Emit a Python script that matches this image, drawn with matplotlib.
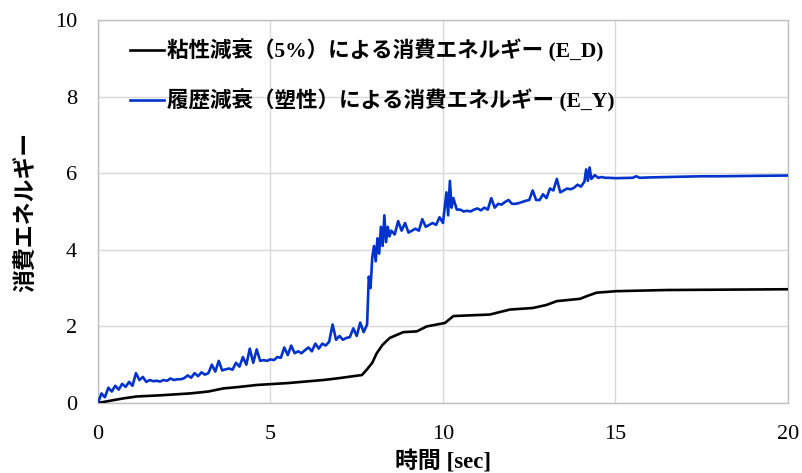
import matplotlib
matplotlib.use("Agg")
import matplotlib.pyplot as plt

# Time axis ticks
x_ticks = [0, 5, 10, 15, 20]
y_ticks = [0, 2, 4, 6, 8, 10]

# Viscous damping (5%) dissipated energy E_D
t_d = [0.0, 0.3, 0.73, 1.12, 1.8, 2.67, 3.2, 3.63, 4.1, 4.6, 5.5, 6.53, 7.0,
       7.4, 7.65, 7.79, 7.95, 8.08, 8.25, 8.46, 8.85, 9.24, 9.53, 10.06, 10.18,
       10.3, 11.36, 11.94, 12.6, 13.0, 13.3, 13.97, 14.2, 14.45, 15.03, 16.5, 20.0]
e_d = [0.0, 0.05, 0.12, 0.17, 0.2, 0.25, 0.3, 0.38, 0.42, 0.47, 0.52, 0.6, 0.65,
       0.7, 0.73, 0.87, 1.05, 1.3, 1.52, 1.7, 1.85, 1.87, 2.0, 2.09, 2.18,
       2.27, 2.31, 2.44, 2.48, 2.56, 2.66, 2.72, 2.8, 2.88, 2.92, 2.95, 2.97]

# Hysteretic (plastic) dissipated energy E_Y
t_y = [0.0, 0.1, 0.2, 0.3, 0.4, 0.5, 0.6, 0.7, 0.8, 0.9,
       1.0, 1.1, 1.2, 1.3, 1.4, 1.5, 1.6, 1.7, 1.8, 1.9,
       2.0, 2.1, 2.2, 2.3, 2.4, 2.5, 2.6, 2.7, 2.8, 2.9,
       3.0, 3.1, 3.2, 3.3, 3.4, 3.5, 3.6, 3.7, 3.8, 3.9,
       4.0, 4.1, 4.2, 4.3, 4.4, 4.5, 4.6, 4.7, 4.8, 4.9,
       5.0, 5.1, 5.2, 5.3, 5.4, 5.5, 5.6, 5.7, 5.8, 5.9,
       6.0, 6.1, 6.2, 6.3, 6.4, 6.5, 6.6, 6.7, 6.8, 6.9,
       7.0, 7.1, 7.2, 7.3, 7.4, 7.5, 7.6, 7.7, 7.8, 7.85,
       7.9, 7.95, 8.0, 8.05, 8.1, 8.15, 8.2, 8.25, 8.3, 8.35,
       8.4, 8.45, 8.5, 8.6, 8.7, 8.8, 8.9, 9.0, 9.1, 9.2,
       9.3, 9.4, 9.5, 9.6, 9.7, 9.8, 9.9, 10.0, 10.1, 10.15,
       10.2, 10.25, 10.3, 10.4, 10.5, 10.6, 10.7, 10.8, 10.9, 11.0,
       11.1, 11.2, 11.3, 11.4, 11.5, 11.6, 11.7, 11.8, 11.9, 12.0,
       12.1, 12.2, 12.3, 12.4, 12.5, 12.6, 12.7, 12.8, 12.9, 13.0,
       13.1, 13.2, 13.3, 13.4, 13.5, 13.6, 13.7, 13.8, 13.9, 14.0,
       14.1, 14.15, 14.2, 14.25, 14.3, 14.4, 14.5, 14.6, 14.7, 14.8,
       15.0, 15.5, 15.6, 15.7, 16.0, 16.5, 17.0, 17.5, 18.0, 19.0, 20.0]
e_y = [0.0, 0.25, 0.15, 0.4, 0.3, 0.45, 0.35, 0.5, 0.42, 0.55,
       0.45, 0.78, 0.6, 0.68, 0.55, 0.6, 0.57, 0.58, 0.56, 0.6,
       0.58, 0.64, 0.6, 0.62, 0.62, 0.65, 0.72, 0.66, 0.78, 0.7,
       0.8, 0.74, 0.78, 1.0, 0.82, 1.1, 0.85, 0.88, 0.9, 0.87,
       1.05, 0.95, 1.2, 1.0, 1.42, 1.05, 1.4, 1.1, 1.12, 1.1,
       1.14, 1.12, 1.2, 1.18, 1.45, 1.25, 1.5, 1.3, 1.35, 1.3,
       1.38, 1.45, 1.35, 1.55, 1.42, 1.55, 1.5, 1.6, 2.05, 1.65,
       1.75, 1.65, 1.7, 1.72, 1.95, 1.75, 2.1, 1.85, 2.05, 3.3,
       3.0, 3.8, 4.1, 3.7, 4.3, 3.9, 4.6, 4.1, 4.9, 4.2,
       4.6, 4.35, 4.5, 4.4, 4.75, 4.5, 4.7, 4.45, 4.5, 4.55,
       4.5, 4.8, 4.6, 4.65, 4.7, 4.65, 4.85, 4.7, 5.5, 4.9,
       5.8, 5.1, 5.35, 5.05, 5.05, 5.0, 5.02, 5.0, 5.05, 5.08,
       5.03, 5.1, 5.05, 5.35, 5.1, 5.2, 5.18, 5.25, 5.3, 5.2,
       5.2, 5.22, 5.25, 5.28, 5.3, 5.55, 5.3, 5.3, 5.45, 5.35,
       5.6, 5.55, 5.85, 5.5, 5.55, 5.6, 5.58, 5.62, 5.7, 5.65,
       5.78, 6.1, 5.8, 6.15, 5.85, 5.95, 5.88, 5.9, 5.88, 5.88,
       5.87, 5.88, 5.92, 5.88, 5.89, 5.9, 5.91, 5.92, 5.92, 5.93, 5.94]

label_d = "粘性減衰（5%）による消費エネルギー (E_D)"
label_y = "履歴減衰（塑性）による消費エネルギー (E_Y)"
xlabel = "時間 [sec]"
ylabel = "消費エネルギー"

fam = ["Liberation Serif", "Noto Sans CJK JP"]
plt.rcParams["font.family"] = fam

fig = plt.figure(figsize=(8.02, 4.73), dpi=100)
ax = fig.add_axes([0.1222, 0.148, 0.8603, 0.8097])

ax.plot(t_d, e_d, color="black", lw=1.9, label=label_d, zorder=3)
ax.plot(t_y, e_y, color="#0033cc", lw=1.9, label=label_y, zorder=3)

ax.set_xlim(0, 20)
ax.set_ylim(0, 10)
ax.set_xticks(x_ticks)
ax.set_yticks(y_ticks)
ax.tick_params(length=0, labelsize=16)
ax.tick_params(axis="y", pad=15)
ax.tick_params(axis="x", pad=16)
ax.grid(True, color="#d9d9d9", lw=1.0, zorder=0)
for s in ax.spines.values():
    s.set_color("#bfbfbf")
    s.set_linewidth(1.0)

ax.set_xlabel(xlabel, fontsize=16.5, fontweight="bold", family=fam, labelpad=4)
ax.set_ylabel(ylabel, fontsize=16.5, fontweight="bold", family=fam, labelpad=12)

leg = ax.legend(loc="upper left", bbox_to_anchor=(0.046, 0.949), frameon=False,
                borderpad=0, borderaxespad=0,
                handlelength=1.6, handletextpad=0.15, labelspacing=1.25,
                prop={"family": fam, "weight": "bold", "size": 15.5})

fig.savefig("out.png", dpi=100)
